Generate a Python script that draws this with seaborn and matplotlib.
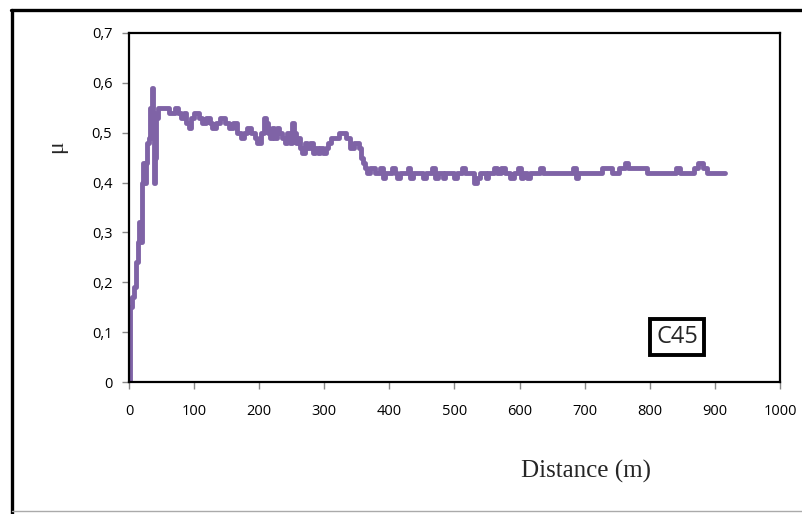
import matplotlib
matplotlib.use("Agg")
import matplotlib.pyplot as plt
import seaborn as sns
from matplotlib.lines import Line2D

# friction coefficient along the sliding distance
dist = [0, 2, 5, 8, 11, 14, 16, 18, 20, 22, 24, 26, 28, 31, 33, 35, 37, 38, 40, 42,
        45, 55, 62, 70, 75, 80, 85, 88, 92, 96, 100, 108, 112, 118, 124, 128, 134,
        140, 148, 154, 160, 166, 172, 176, 182, 188, 193, 197, 203, 207, 211, 214,
        217, 220, 223, 227, 231, 235, 239, 243, 247, 250, 253, 256, 259, 262, 266,
        270, 274, 278, 282, 286, 290, 294, 298, 302, 305, 310, 318, 322, 334, 340,
        345, 350, 353, 356, 359, 362, 366, 370, 378, 386, 390, 393, 404, 408, 412,
        416, 428, 431, 436, 452, 456, 466, 470, 474, 482, 486, 500, 504, 512, 516,
        530, 534, 540, 548, 552, 560, 566, 572, 578, 586, 592, 598, 602, 606, 612,
        616, 632, 636, 682, 686, 690, 726, 742, 752, 762, 766, 796, 804, 840, 846,
        868, 874, 882, 888, 915]
mu = [0.00, 0.15, 0.17, 0.19, 0.24, 0.28, 0.32, 0.28, 0.40, 0.44, 0.40, 0.44, 0.48,
      0.49, 0.55, 0.59, 0.54, 0.40, 0.45, 0.53, 0.55, 0.55, 0.54, 0.55, 0.54, 0.53,
      0.54, 0.52, 0.51, 0.53, 0.54, 0.53, 0.52, 0.53, 0.52, 0.51, 0.52, 0.53, 0.52,
      0.51, 0.52, 0.50, 0.49, 0.50, 0.51, 0.50, 0.49, 0.48, 0.50, 0.53, 0.52, 0.50,
      0.49, 0.51, 0.49, 0.51, 0.50, 0.49, 0.48, 0.50, 0.48, 0.52, 0.50, 0.48, 0.49,
      0.47, 0.46, 0.48, 0.47, 0.48, 0.46, 0.47, 0.46, 0.47, 0.46, 0.47, 0.48, 0.49,
      0.49, 0.50, 0.49, 0.47, 0.48, 0.48, 0.47, 0.45, 0.44, 0.43, 0.42, 0.43, 0.42,
      0.43, 0.41, 0.42, 0.43, 0.42, 0.41, 0.42, 0.43, 0.41, 0.42, 0.41, 0.42, 0.43,
      0.41, 0.42, 0.41, 0.42, 0.41, 0.42, 0.43, 0.42, 0.40, 0.41, 0.42, 0.41, 0.42,
      0.43, 0.42, 0.43, 0.42, 0.41, 0.42, 0.43, 0.41, 0.42, 0.41, 0.42, 0.43, 0.42,
      0.43, 0.41, 0.42, 0.43, 0.42, 0.43, 0.44, 0.43, 0.42, 0.42, 0.43, 0.42, 0.43,
      0.44, 0.43, 0.42, 0.42]

xticks = [0, 100, 200, 300, 400, 500, 600, 700, 800, 900, 1000]
yticks = [0, 0.1, 0.2, 0.3, 0.4, 0.5, 0.6, 0.7]
ytick_labels = ["0", "0,1", "0,2", "0,3", "0,4", "0,5", "0,6", "0,7"]
sample = "C45"

sns.set_style("ticks")
plt.rcParams["font.family"] = ["Open Sans", "DejaVu Sans"]

fig = plt.figure(figsize=(8.03, 5.14), dpi=100)
ax = fig.add_axes([0.1606, 0.2568, 0.8107, 0.679])

sns.lineplot(x=dist, y=mu, ax=ax, color="#7f63a6", linewidth=3.5,
             drawstyle="steps-post", estimator=None)

ax.set_xlim(0, 1000)
ax.set_ylim(0, 0.7)
ax.set_xticks(xticks)
ax.set_xticklabels([str(t) for t in xticks], fontsize=10.5)
ax.set_yticks(yticks)
ax.set_yticklabels(ytick_labels, fontsize=10.5)
ax.tick_params(axis="both", direction="out", length=5, width=1, color="#888888",
               pad=7, labelcolor="black")
ax.tick_params(axis="x", pad=11)
for sp in ax.spines.values():
    sp.set_visible(True)
    sp.set_color("black")
    sp.set_linewidth(1.6)

ax.set_xlabel("")
ax.set_ylabel("")
fig.text(586 / 803, 1 - 471 / 514, "Distance (m)", family="Liberation Serif",
         fontsize=18, ha="center", va="center")
fig.text(57 / 803, 1 - 147 / 514, "\u03bc", family="Liberation Serif",
         fontsize=17, ha="center", va="center", rotation=90)

ax.text(842, 0.091, sample, fontsize=17, ha="center", va="center",
        bbox=dict(boxstyle="square,pad=0.25", fc="white", ec="black", lw=2.8))

# outer frame of the figure (left and top thick, bottom thin)
fig.lines.append(Line2D([12 / 803, 12 / 803], [0, 1 - 10 / 514], transform=fig.transFigure,
                        color="black", lw=2.4))
fig.lines.append(Line2D([11 / 803, 1], [1 - 10 / 514, 1 - 10 / 514], transform=fig.transFigure,
                        color="black", lw=2.4))
fig.lines.append(Line2D([12 / 803, 1], [3 / 514, 3 / 514], transform=fig.transFigure,
                        color="#aaaaaa", lw=1))

fig.savefig("out.png", dpi=100)
